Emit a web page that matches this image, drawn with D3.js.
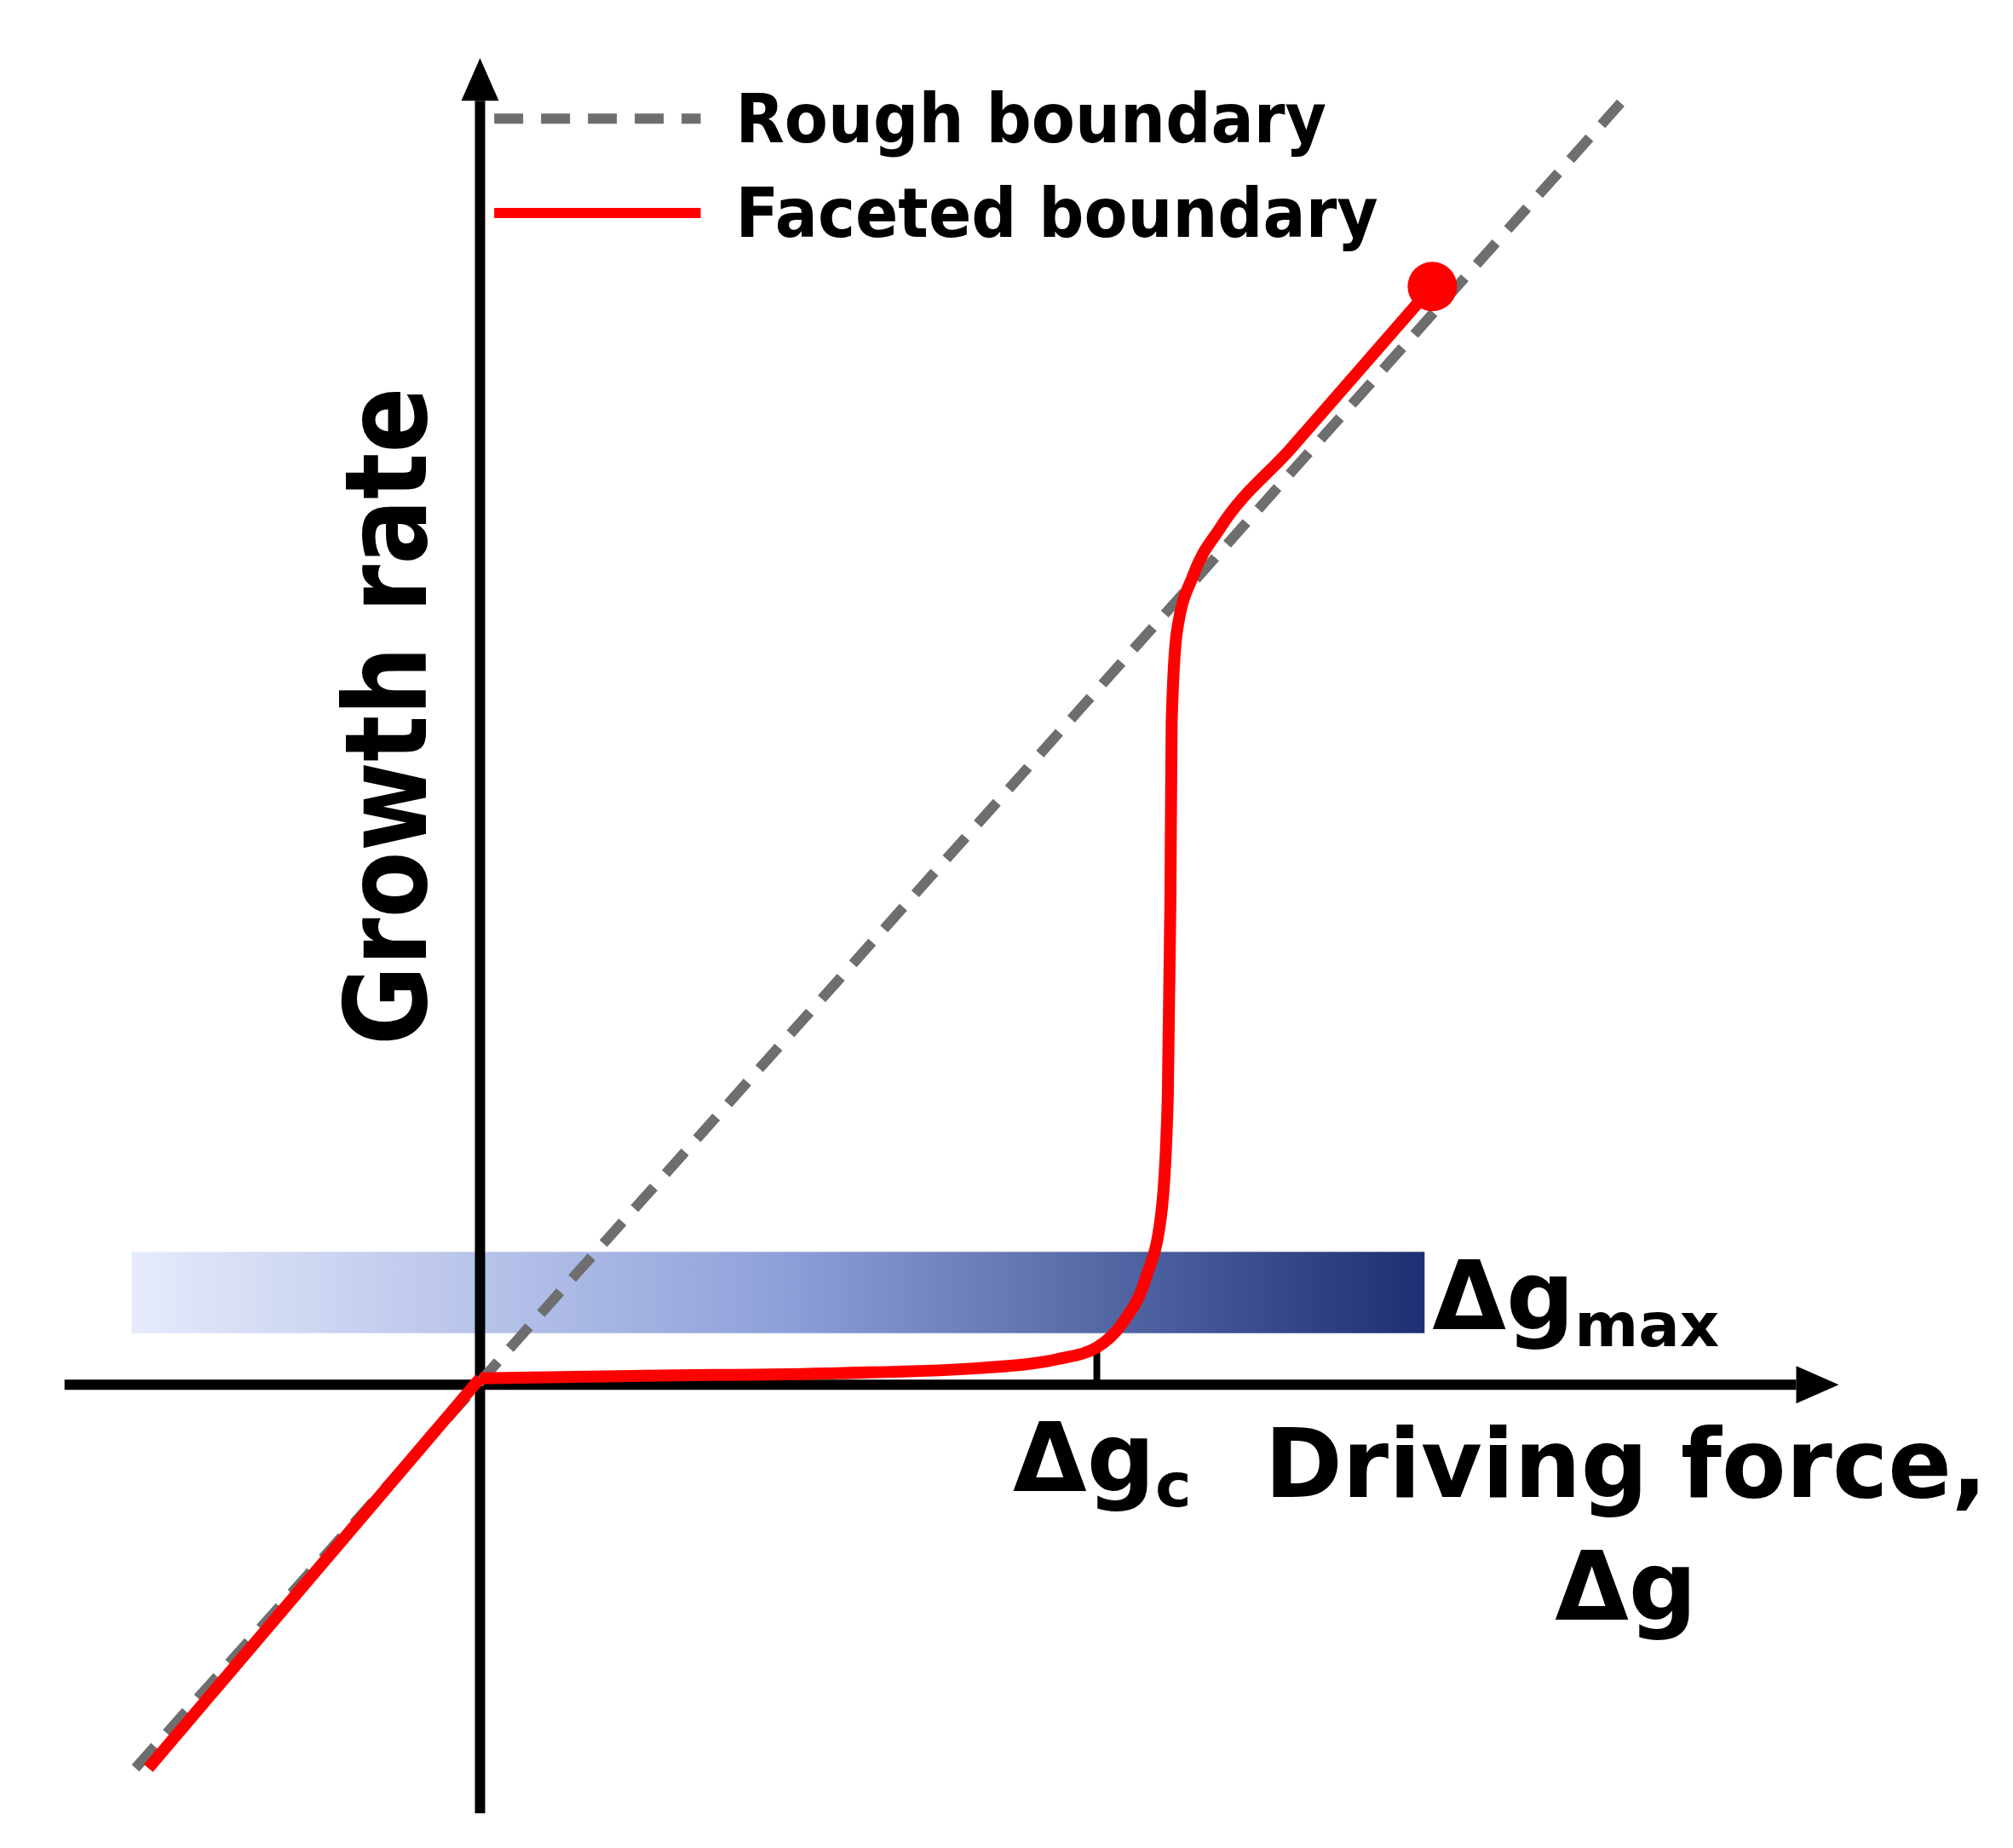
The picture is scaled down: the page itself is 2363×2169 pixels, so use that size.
<!DOCTYPE html>
<html><head><meta charset="utf-8">
<script src="https://cdn.jsdelivr.net/npm/d3@7"></script>
<style>body{margin:0;background:#fff}text{font-family:"DejaVu Sans",Verdana,sans-serif;font-weight:bold}</style>
</head><body>
<svg id="chart" width="2363" height="2169"></svg>
<script>
// data in schematic units (origin at the axes crossing)
var roughX = [-2.67, 8.9],
	roughY = [-2.97, 10.0];
var facetedX = [-2.57, 0, 1.28, 2.78, 3.88, 4.48, 4.78, 4.98, 5.16, 5.28, 5.33, 5.35, 5.36, 5.40, 5.53, 5.73, 6.28, 7.38],
	facetedY = [-2.97, 0.05, 0.07, 0.09, 0.13, 0.2, 0.29, 0.48, 0.83, 1.33, 2.23, 3.73, 5.13, 5.83, 6.28, 6.63, 7.25, 8.51];
var bandX = [-2.7, 7.32],
	bandY = [0.4, 1.03];
var dgc = 4.78;
var legendLabels = ["Rough boundary", "Faceted boundary"];

var s = 2363 / 1560;
var svg = d3.select("#chart");
var x = d3.scaleLinear().domain([-3.22, 10.53]).range([50 * s, 1425 * s]);
var y = d3.scaleLinear().domain([-3.32, 10.28]).range([1405 * s, 45 * s]);

// gradient band
var grad = svg.append("defs").append("linearGradient").attr("id", "g1");
grad.append("stop").attr("offset", "0%").attr("stop-color", "#e6ebfb");
grad.append("stop").attr("offset", "50%").attr("stop-color", "#8fa1da");
grad.append("stop").attr("offset", "100%").attr("stop-color", "#1b2f72");
svg.append("rect").attr("x", x(bandX[0])).attr("y", y(bandY[1]))
	.attr("width", x(bandX[1]) - x(bandX[0])).attr("height", y(bandY[0]) - y(bandY[1]))
	.attr("fill", "url(#g1)");

// axes
var aw = 12;
svg.append("line").attr("x1", x(-3.22)).attr("x2", x(10.2)).attr("y1", y(0)).attr("y2", y(0))
	.attr("stroke", "#000").attr("stroke-width", aw);
svg.append("line").attr("x1", x(0)).attr("x2", x(0)).attr("y1", y(-3.32)).attr("y2", y(9.95))
	.attr("stroke", "#000").attr("stroke-width", aw);
var ax = x(10.53), ay = y(0);
svg.append("path").attr("d", "M" + ax + "," + ay + "L" + (ax - 50) + "," + (ay - 22) + "L" + (ax - 50) + "," + (ay + 22) + "Z");
var tx = x(0), ty = y(10.28);
svg.append("path").attr("d", "M" + tx + "," + ty + "L" + (tx - 22) + "," + (ty + 50) + "L" + (tx + 22) + "," + (ty + 50) + "Z");
svg.append("line").attr("x1", x(dgc)).attr("x2", x(dgc)).attr("y1", y(0)).attr("y2", y(0.25))
	.attr("stroke", "#000").attr("stroke-width", 8);

var line = d3.line().x(function(d) { return x(d[0]); }).y(function(d) { return y(d[1]); });
svg.append("path").attr("d", line(d3.zip(roughX, roughY))).attr("fill", "none")
	.attr("stroke", "#6e6e6e").attr("stroke-width", 12).attr("stroke-dasharray", "34,21");
var pts = d3.zip(facetedX, facetedY);
svg.append("path").attr("d", line(pts.slice(0, 2))).attr("fill", "none")
	.attr("stroke", "#ff0000").attr("stroke-width", 14).attr("stroke-linejoin", "round");
svg.append("path").attr("d", d3.line().x(function(d) { return x(d[0]); }).y(function(d) { return y(d[1]); })
	.curve(d3.curveMonotoneX)(pts.slice(1))).attr("fill", "none")
	.attr("stroke", "#ff0000").attr("stroke-width", 14);
svg.append("circle").attr("cx", x(7.38)).attr("cy", y(8.51)).attr("r", 29).attr("fill", "#ff0000");

// legend
[["#6e6e6e", "34,21"], ["#ff0000", null]].forEach(function(st, i) {
	var ly = (92 + i * 73) * s;
	svg.append("line").attr("x1", 383 * s).attr("x2", 543 * s).attr("y1", ly).attr("y2", ly)
		.attr("stroke", st[0]).attr("stroke-width", 12).attr("stroke-dasharray", st[1]);
	svg.append("text").attr("x", 570 * s).attr("y", ly + 28).attr("font-size", 80)
		.attr("textLength", (i ? 498 : 458) * s).attr("lengthAdjust", "spacingAndGlyphs").text(legendLabels[i]);
});

// labels
svg.append("text").attr("transform", "translate(" + 330 * s + "," + 810 * s + ") rotate(-90)")
	.attr("font-size", 134).attr("textLength", 510 * s).attr("lengthAdjust", "spacingAndGlyphs").text("Growth rate");
svg.append("text").attr("x", 980 * s).attr("y", 1160 * s).attr("font-size", 112)
	.attr("textLength", 560 * s).attr("lengthAdjust", "spacingAndGlyphs").text("Driving force,");
svg.append("text").attr("x", 1260 * s).attr("y", 1255 * s).attr("font-size", 112).attr("text-anchor", "middle").text("Δg");
var c = svg.append("text").attr("x", 785 * s).attr("y", 1155 * s).attr("font-size", 112);
c.append("tspan").text("Δg");
c.append("tspan").attr("font-size", 72).attr("dy", 18).text("c");
var m = svg.append("text").attr("x", 1110 * s).attr("y", 1030 * s).attr("font-size", 112);
m.append("tspan").text("Δg");
m.append("tspan").attr("font-size", 72).attr("dy", 20).text("max");
</script>
</body></html>
